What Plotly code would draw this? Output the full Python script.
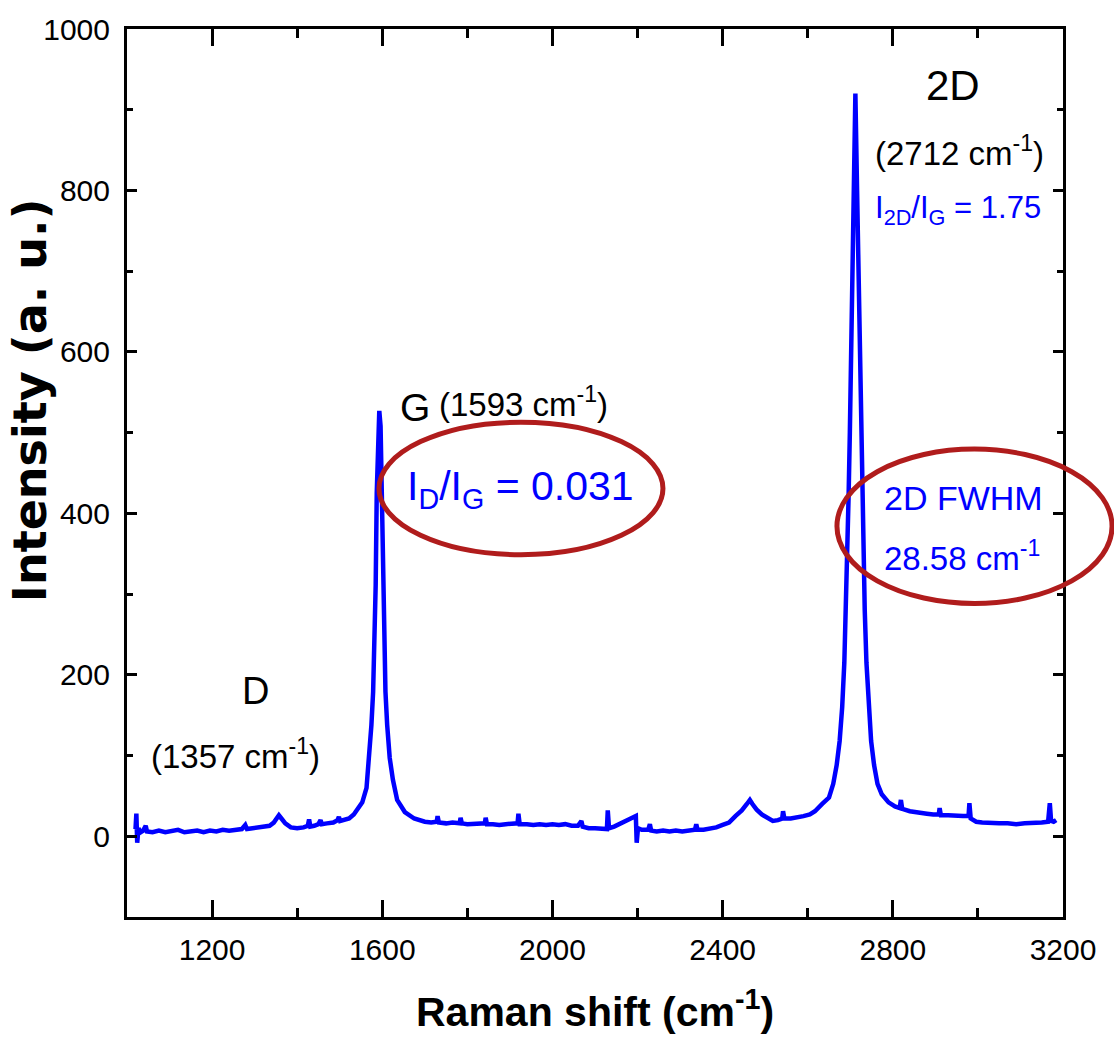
import plotly.graph_objects as go

# Raman spectrum, split into regions (Raman shift in cm^-1, intensity in a.u.)
low_shift = [1020, 1022, 1024, 1027, 1032, 1038, 1044, 1047, 1060, 1075, 1090, 1105, 1120, 1135, 1150,
             1165, 1180, 1195, 1210, 1225, 1240, 1255, 1270, 1278, 1282, 1295, 1310, 1322, 1335, 1345,
             1352, 1357, 1363, 1372, 1385, 1400, 1415, 1425, 1428, 1431, 1440, 1450, 1455, 1458, 1470,
             1485, 1495, 1498, 1501, 1512, 1522]
low_counts = [9, 28, -8, 10, 5, 7, 13, 6, 5, 7, 5, 6, 8, 5, 6,
              7, 5, 7, 6, 8, 7, 8, 9, 14, 9, 10, 11, 12, 13, 17,
              22, 26, 22, 16, 11, 10, 11, 13, 21, 12, 13, 15, 20, 15, 16,
              17, 20, 24, 19, 20, 22]

g_shift = [1533, 1553, 1563, 1569, 1574.5, 1578.5, 1582.5, 1584.5, 1587, 1590, 1593, 1596, 1599,
           1601.5, 1603.5, 1607.5, 1611.5, 1617.5, 1625, 1635, 1653, 1675, 1700]
g_counts = [27, 42, 60, 97, 138, 179, 261, 311, 425, 508, 527, 508, 425,
            311, 261, 179, 138, 97, 70, 45, 30, 22, 18]

mid_shift = [1715, 1728, 1730, 1733, 1750, 1765, 1782, 1784, 1787, 1800, 1815, 1830, 1841, 1843, 1846,
             1860, 1875, 1890, 1905, 1918, 1920, 1923, 1940, 1955, 1970, 1985, 2000, 2015, 2030, 2045,
             2060, 2068, 2071, 2085, 2100, 2115, 2128, 2130, 2133, 2145, 2160, 2175, 2185, 2194, 2196,
             2198, 2201, 2210, 2225, 2229, 2232, 2245, 2260, 2275, 2290, 2305, 2320, 2335, 2338, 2341,
             2355, 2370, 2385, 2400, 2415, 2430, 2445, 2457, 2464, 2470, 2480, 2492, 2505, 2518, 2530,
             2540, 2542, 2545, 2560, 2575, 2590, 2605]
mid_counts = [17, 18, 25, 17, 16, 17, 16, 23, 16, 15, 15, 16, 16, 23, 15,
              15, 14, 15, 15, 16, 28, 15, 15, 14, 15, 14, 15, 14, 15, 13,
              13, 19, 12, 10, 10, 9, 9, 32, 10, 12, 16, 20, 23, 26, 25,
              -8, 10, 8, 8, 15, 7, 6, 7, 6, 7, 6, 7, 8, 15, 8,
              8, 9, 11, 14, 17, 25, 32, 40, 45, 40, 33, 27, 23, 19, 20,
              22, 31, 22, 22, 23, 25, 27]

two_d_shift = [2617, 2634, 2650, 2660, 2668, 2675, 2681, 2686, 2690, 2693, 2696, 2699, 2702, 2705, 2708,
               2712, 2716, 2719, 2722, 2725, 2728, 2731, 2734, 2738, 2743, 2749, 2756, 2764, 2774, 2790,
               2805]
two_d_counts = [31, 40, 48, 65, 88, 118, 160, 215, 280, 350, 420, 500, 600, 700, 800,
                920, 800, 700, 600, 500, 420, 350, 280, 215, 160, 118, 88, 65, 52, 42,
                37]

high_shift = [2816, 2819, 2822, 2840, 2860, 2880, 2895, 2908, 2910, 2913, 2930, 2950, 2965, 2978, 2980,
              2983, 2996, 3010, 3030, 3050, 3070, 3090, 3110, 3130, 3150, 3165, 3169, 3172, 3178, 3184]
high_counts = [35, 45, 34, 31, 29, 28, 27, 27, 35, 26, 26, 25, 25, 25, 41,
               22, 18, 17, 16, 16, 16, 15, 16, 16, 17, 18, 41, 19, 18, 20]

x_tick_vals = [1200, 1600, 2000, 2400, 2800, 3200]
y_tick_vals = [0, 200, 400, 600, 800, 1000]

raman_shift = low_shift + g_shift + mid_shift + two_d_shift + high_shift
intensity = low_counts + g_counts + mid_counts + two_d_counts + high_counts

SANS = "Liberation Sans Narrow, Arial Narrow, Liberation Sans, Arial, sans-serif"
BLUE = "#0000ff"
RED = "#b01c1c"

fig = go.Figure()
fig.add_trace(go.Scatter(
    x=raman_shift, y=intensity, mode="lines",
    line=dict(color=BLUE, width=4.5), showlegend=False, hoverinfo="skip",
))

axis_common = dict(
    showline=True, linecolor="black", linewidth=3, mirror="ticks",
    ticks="inside", tickwidth=3, tickcolor="black",
    showgrid=False, zeroline=False,
    tickfont=dict(family=SANS, size=30, color="black"),
)

fig.update_xaxes(
    range=[1000, 3200], tickvals=x_tick_vals, ticklen=17,
    minor=dict(ticks="inside", ticklen=9, tickwidth=3, tickcolor="black", dtick=200, tick0=1000),
    ticklabelstandoff=4,
    **axis_common,
)
fig.update_yaxes(
    range=[-100, 1000], tickvals=y_tick_vals, ticklen=10,
    minor=dict(ticks="inside", ticklen=6, tickwidth=3, tickcolor="black", dtick=100, tick0=0),
    ticklabelstandoff=8,
    **axis_common,
)

def label(x, y, text, size, color="black", family=SANS, **kw):
    fig.add_annotation(x=x, y=y, xref="x", yref="y", text=text, showarrow=False,
                       font=dict(family=family, size=size, color=color),
                       xanchor="center", yanchor="middle", **kw)

# peak labels
label(1303, 180, "D", 38)
label(1254, 102, "(1357 cm<sup>-1</sup>)", 33)
label(1677, 531, "G", 39)
label(1932, 538, "(1593 cm<sup>-1</sup>)", 33)
label(1924, 430, "I<sub>D</sub>/I<sub>G</sub> = 0.031", 41, BLUE)
label(2941, 930, "2D", 42)
label(2956, 849, "(2712 cm<sup>-1</sup>)", 33)
label(2954, 776, "I<sub>2D</sub>/I<sub>G</sub> = 1.75", 31, BLUE)
label(2965, 419, "2D FWHM", 34, BLUE)
label(2962, 347, "28.58 cm<sup>-1</sup>", 33, BLUE)

# axis titles
fig.add_annotation(x=0.5, y=-0.104, xref="paper", yref="paper", showarrow=False,
                   text="<b>Raman shift (cm<sup>-1</sup>)</b>",
                   font=dict(family=SANS, size=41, color="black"),
                   xanchor="center", yanchor="middle")
fig.add_annotation(x=-0.1036, y=0.582, xref="paper", yref="paper", showarrow=False,
                   text="<b>Intensity (a. u.)</b>", textangle=-90,
                   font=dict(family="DejaVu Sans, sans-serif", size=46, color="black"),
                   xanchor="center", yanchor="middle")

# highlight ellipses
fig.add_shape(type="circle", xref="paper", yref="paper",
              x0=0.2692, x1=0.5726, y0=0.408, y1=0.5572,
              line=dict(color=RED, width=5), layer="above")
fig.add_shape(type="circle", xref="paper", yref="paper",
              x0=0.7585, x1=1.0524, y0=0.3531, y1=0.5269,
              line=dict(color=RED, width=5), layer="above")

fig.update_layout(
    width=1114, height=1042,
    margin=dict(l=127, r=51, t=25, b=125),
    paper_bgcolor="white", plot_bgcolor="white",
)

fig.write_html("out.html")
